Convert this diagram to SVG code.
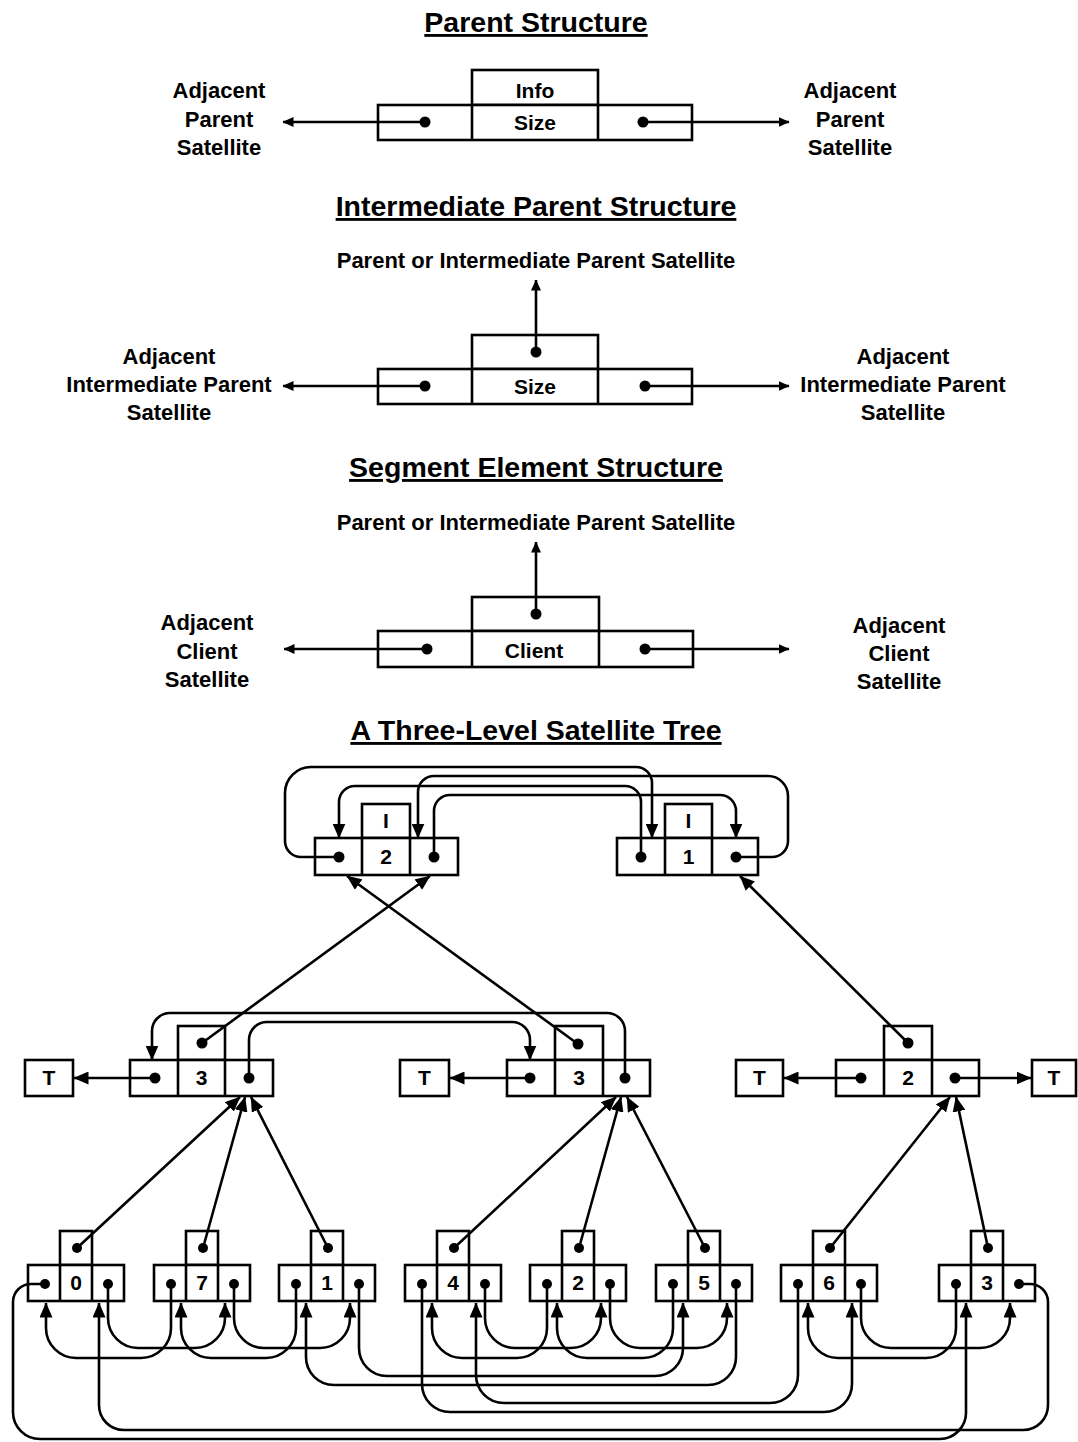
<svg xmlns="http://www.w3.org/2000/svg" width="1078" height="1442" viewBox="0 0 1078 1442">
<defs>
<style>
.t{font-family:"Liberation Sans",Arial,sans-serif;font-weight:bold;fill:#000;text-anchor:middle}
.h{font-size:28.5px;text-decoration:underline}
.l{font-size:22px}
.n{font-size:21px}
.b{fill:#fff;stroke:#000;stroke-width:2.6}
.k{stroke:#000;stroke-width:2.6}
.cs{fill:none;stroke:#000;stroke-width:2.6;marker-end:url(#s)}
.ca{fill:none;stroke:#000;stroke-width:2.6;marker-end:url(#a)}
.d{fill:#000}
</style>
<marker id="a" markerUnits="userSpaceOnUse" markerWidth="15" markerHeight="13" viewBox="0 0 15 13" refX="14.5" refY="6.5" orient="auto"><path d="M0,0L15,6.5L0,13z"/></marker>
<marker id="s" markerUnits="userSpaceOnUse" markerWidth="11" markerHeight="10" viewBox="0 0 11 10" refX="10.5" refY="5" orient="auto"><path d="M0,0L11,5L0,10z"/></marker>
</defs>
<rect width="1078" height="1442" fill="#fff"/>

<g id="titles">
<text class="t h" x="536" y="32">Parent Structure</text>
<text class="t h" x="536" y="216">Intermediate Parent Structure</text>
<text class="t h" x="536" y="477">Segment Element Structure</text>
<text class="t h" x="536" y="740">A Three-Level Satellite Tree</text>
</g>

<g id="parent-node">
<rect class="b" x="472" y="70" width="126" height="35"/>
<rect class="b" x="378" y="105" width="314" height="35"/>
<line class="k" x1="472" y1="105" x2="472" y2="140"/>
<line class="k" x1="598" y1="105" x2="598" y2="140"/>
<text class="t n" x="535" y="97.5">Info</text>
<text class="t n" x="535" y="130">Size</text>
<circle class="d" cx="425" cy="122" r="5.5"/>
<circle class="d" cx="643" cy="122" r="5.5"/>
</g>
<g id="parent-left-label">
<text class="t l" x="219" y="98">Adjacent</text>
<text class="t l" x="219" y="127">Parent</text>
<text class="t l" x="219" y="155">Satellite</text>
</g>
<g id="parent-right-label">
<text class="t l" x="850" y="98">Adjacent</text>
<text class="t l" x="850" y="127">Parent</text>
<text class="t l" x="850" y="155">Satellite</text>
</g>

<g id="intermediate-node">
<rect class="b" x="472" y="335" width="126" height="34"/>
<rect class="b" x="378" y="369" width="314" height="35"/>
<line class="k" x1="472" y1="369" x2="472" y2="404"/>
<line class="k" x1="598" y1="369" x2="598" y2="404"/>
<text class="t n" x="535" y="394">Size</text>
<circle class="d" cx="425" cy="386" r="5.5"/>
<circle class="d" cx="645" cy="386" r="5.5"/>
<circle class="d" cx="536" cy="352" r="5.5"/>
</g>
<g id="intermediate-top-label">
<text class="t l" x="536" y="268">Parent or Intermediate Parent Satellite</text>
</g>
<g id="intermediate-left-label">
<text class="t l" x="169" y="364">Adjacent</text>
<text class="t l" x="169" y="392">Intermediate Parent</text>
<text class="t l" x="169" y="420">Satellite</text>
</g>
<g id="intermediate-right-label">
<text class="t l" x="903" y="364">Adjacent</text>
<text class="t l" x="903" y="392">Intermediate Parent</text>
<text class="t l" x="903" y="420">Satellite</text>
</g>

<g id="segment-node">
<rect class="b" x="472" y="597" width="127" height="34"/>
<rect class="b" x="378" y="631" width="315" height="36"/>
<line class="k" x1="472" y1="631" x2="472" y2="667"/>
<line class="k" x1="599" y1="631" x2="599" y2="667"/>
<text class="t n" x="534" y="658">Client</text>
<circle class="d" cx="427" cy="649" r="5.5"/>
<circle class="d" cx="645" cy="649" r="5.5"/>
<circle class="d" cx="536" cy="614" r="5.5"/>
</g>
<g id="segment-top-label">
<text class="t l" x="536" y="530">Parent or Intermediate Parent Satellite</text>
</g>
<g id="segment-left-label">
<text class="t l" x="207" y="630">Adjacent</text>
<text class="t l" x="207" y="659">Client</text>
<text class="t l" x="207" y="687">Satellite</text>
</g>
<g id="segment-right-label">
<text class="t l" x="899" y="633">Adjacent</text>
<text class="t l" x="899" y="661">Client</text>
<text class="t l" x="899" y="689">Satellite</text>
</g>

<g id="top-2">
<rect class="b" x="362" y="804" width="48" height="34"/>
<rect class="b" x="315" y="838" width="143" height="37"/>
<line class="k" x1="362" y1="838" x2="362" y2="875"/>
<line class="k" x1="410" y1="838" x2="410" y2="875"/>
<text class="t n" x="386" y="828">I</text>
<text class="t n" x="386" y="864">2</text>
<circle class="d" cx="339" cy="857" r="5.5"/>
<circle class="d" cx="434" cy="857" r="5.5"/>
</g>
<g id="top-1">
<rect class="b" x="665" y="804" width="47" height="34"/>
<rect class="b" x="617" y="838" width="141" height="37"/>
<line class="k" x1="665" y1="838" x2="665" y2="875"/>
<line class="k" x1="712" y1="838" x2="712" y2="875"/>
<text class="t n" x="688.5" y="828">I</text>
<text class="t n" x="688.5" y="864">1</text>
<circle class="d" cx="641" cy="857" r="5.5"/>
<circle class="d" cx="736" cy="857" r="5.5"/>
</g>

<g id="mid-3a">
<rect class="b" x="178" y="1026" width="47" height="34"/>
<rect class="b" x="130" y="1060" width="143" height="36"/>
<line class="k" x1="178" y1="1060" x2="178" y2="1096"/>
<line class="k" x1="225" y1="1060" x2="225" y2="1096"/>
<text class="t n" x="201.5" y="1085">3</text>
<circle class="d" cx="155" cy="1078" r="5.5"/>
<circle class="d" cx="249" cy="1078" r="5.5"/>
<circle class="d" cx="202" cy="1043" r="5.5"/>
</g>
<g id="mid-3b">
<rect class="b" x="555" y="1026" width="48" height="34"/>
<rect class="b" x="507" y="1060" width="143" height="36"/>
<line class="k" x1="555" y1="1060" x2="555" y2="1096"/>
<line class="k" x1="603" y1="1060" x2="603" y2="1096"/>
<text class="t n" x="579" y="1085">3</text>
<circle class="d" cx="530" cy="1078" r="5.5"/>
<circle class="d" cx="625" cy="1078" r="5.5"/>
<circle class="d" cx="578" cy="1044" r="5.5"/>
</g>
<g id="mid-2">
<rect class="b" x="884" y="1026" width="48" height="34"/>
<rect class="b" x="836" y="1060" width="143" height="36"/>
<line class="k" x1="884" y1="1060" x2="884" y2="1096"/>
<line class="k" x1="932" y1="1060" x2="932" y2="1096"/>
<text class="t n" x="908" y="1085">2</text>
<circle class="d" cx="861" cy="1078" r="5.5"/>
<circle class="d" cx="955" cy="1078" r="5.5"/>
<circle class="d" cx="908" cy="1043" r="5.5"/>
</g>
<g id="term-1"><rect class="b" x="25" y="1060" width="48" height="36"/><text class="t n" x="49" y="1085">T</text></g>
<g id="term-2"><rect class="b" x="400" y="1060" width="49" height="36"/><text class="t n" x="424.5" y="1085">T</text></g>
<g id="term-3"><rect class="b" x="736" y="1060" width="47" height="36"/><text class="t n" x="759.5" y="1085">T</text></g>
<g id="term-4"><rect class="b" x="1032" y="1060" width="44" height="36"/><text class="t n" x="1054" y="1085">T</text></g>

<g id="leaf-0">
<rect class="b" x="60" y="1231" width="32" height="34"/>
<rect class="b" x="28" y="1265" width="96" height="36"/>
<line class="k" x1="60" y1="1265" x2="60" y2="1301"/>
<line class="k" x1="92" y1="1265" x2="92" y2="1301"/>
<text class="t n" x="76" y="1290">0</text>
<circle class="d" cx="45" cy="1284" r="5"/><circle class="d" cx="108" cy="1284" r="5"/><circle class="d" cx="77" cy="1248" r="5"/>
</g>
<g id="leaf-7">
<rect class="b" x="186" y="1231" width="32" height="34"/>
<rect class="b" x="154" y="1265" width="96" height="36"/>
<line class="k" x1="186" y1="1265" x2="186" y2="1301"/>
<line class="k" x1="218" y1="1265" x2="218" y2="1301"/>
<text class="t n" x="202" y="1290">7</text>
<circle class="d" cx="171" cy="1284" r="5"/><circle class="d" cx="234" cy="1284" r="5"/><circle class="d" cx="203" cy="1248" r="5"/>
</g>
<g id="leaf-1">
<rect class="b" x="311" y="1231" width="32" height="34"/>
<rect class="b" x="279" y="1265" width="96" height="36"/>
<line class="k" x1="311" y1="1265" x2="311" y2="1301"/>
<line class="k" x1="343" y1="1265" x2="343" y2="1301"/>
<text class="t n" x="327" y="1290">1</text>
<circle class="d" cx="296" cy="1284" r="5"/><circle class="d" cx="359" cy="1284" r="5"/><circle class="d" cx="328" cy="1248" r="5"/>
</g>
<g id="leaf-4">
<rect class="b" x="437" y="1231" width="32" height="34"/>
<rect class="b" x="405" y="1265" width="96" height="36"/>
<line class="k" x1="437" y1="1265" x2="437" y2="1301"/>
<line class="k" x1="469" y1="1265" x2="469" y2="1301"/>
<text class="t n" x="453" y="1290">4</text>
<circle class="d" cx="422" cy="1284" r="5"/><circle class="d" cx="485" cy="1284" r="5"/><circle class="d" cx="454" cy="1248" r="5"/>
</g>
<g id="leaf-2">
<rect class="b" x="562" y="1231" width="32" height="34"/>
<rect class="b" x="530" y="1265" width="96" height="36"/>
<line class="k" x1="562" y1="1265" x2="562" y2="1301"/>
<line class="k" x1="594" y1="1265" x2="594" y2="1301"/>
<text class="t n" x="578" y="1290">2</text>
<circle class="d" cx="547" cy="1284" r="5"/><circle class="d" cx="610" cy="1284" r="5"/><circle class="d" cx="579" cy="1248" r="5"/>
</g>
<g id="leaf-5">
<rect class="b" x="688" y="1231" width="32" height="34"/>
<rect class="b" x="656" y="1265" width="96" height="36"/>
<line class="k" x1="688" y1="1265" x2="688" y2="1301"/>
<line class="k" x1="720" y1="1265" x2="720" y2="1301"/>
<text class="t n" x="704" y="1290">5</text>
<circle class="d" cx="673" cy="1284" r="5"/><circle class="d" cx="736" cy="1284" r="5"/><circle class="d" cx="705" cy="1248" r="5"/>
</g>
<g id="leaf-6">
<rect class="b" x="813" y="1231" width="32" height="34"/>
<rect class="b" x="781" y="1265" width="96" height="36"/>
<line class="k" x1="813" y1="1265" x2="813" y2="1301"/>
<line class="k" x1="845" y1="1265" x2="845" y2="1301"/>
<text class="t n" x="829" y="1290">6</text>
<circle class="d" cx="798" cy="1284" r="5"/><circle class="d" cx="861" cy="1284" r="5"/><circle class="d" cx="830" cy="1248" r="5"/>
</g>
<g id="leaf-3">
<rect class="b" x="971" y="1231" width="32" height="34"/>
<rect class="b" x="939" y="1265" width="96" height="36"/>
<line class="k" x1="971" y1="1265" x2="971" y2="1301"/>
<line class="k" x1="1003" y1="1265" x2="1003" y2="1301"/>
<text class="t n" x="987" y="1290">3</text>
<circle class="d" cx="956" cy="1284" r="5"/><circle class="d" cx="1019" cy="1284" r="5"/><circle class="d" cx="988" cy="1248" r="5"/>
</g>

<g id="connectors">
<path class="cs" d="M425,122H283"/>
<path class="cs" d="M643,122H789"/>
<path class="cs" d="M425,386H283"/>
<path class="cs" d="M645,386H789"/>
<path class="cs" d="M536,352V280"/>
<path class="cs" d="M427,649H284"/>
<path class="cs" d="M645,649H789"/>
<path class="cs" d="M536,614V542"/>

<path class="ca" d="M339,857H301C292.2,857 285,849.8 285,841V793C285,778.7 296.7,767 311,767H636C644.8,767 652,774.2 652,783V838"/>
<path class="ca" d="M736,857H772C780.8,857 788,849.8 788,841V796C788,785 779,776 768,776H434C425.2,776 418,783.2 418,792V838"/>
<path class="ca" d="M641,857V802C641,793.2 633.8,786 625,786H355C346.2,786 339,793.2 339,802V838"/>
<path class="ca" d="M434,857V811C434,802.2 441.2,795 450,795H720C728.8,795 736,802.2 736,811V838"/>

<path class="ca" d="M202,1043L430,876"/>
<path class="ca" d="M578,1044L347,876"/>
<path class="ca" d="M908,1043L740,876"/>

<path class="ca" d="M155,1078H74"/>
<path class="ca" d="M530,1078H450"/>
<path class="ca" d="M861,1078H784"/>
<path class="ca" d="M955,1078H1031"/>
<path class="ca" d="M249,1078V1040C249,1030 257,1022 267,1022H512C522,1022 530,1030 530,1040V1060"/>
<path class="ca" d="M625,1078V1031C625,1021 617,1013 607,1013H170C160,1013 152,1021 152,1031V1060"/>

<path class="ca" d="M77,1248L240,1097"/>
<path class="ca" d="M203,1248L245,1097"/>
<path class="ca" d="M328,1248L251,1097"/>
<path class="ca" d="M454,1248L616,1097"/>
<path class="ca" d="M579,1248L621,1097"/>
<path class="ca" d="M705,1248L627,1097"/>
<path class="ca" d="M830,1248L950,1097"/>
<path class="ca" d="M988,1248L956,1097"/>

<path class="ca" d="M108,1284V1318C108,1334.5 121.5,1348 138,1348H195C211.5,1348 225,1334.5 225,1318V1303"/>
<path class="ca" d="M171,1284V1328C171,1344.5 157.5,1358 141,1358H76C59.5,1358 46,1344.5 46,1328V1303"/>
<path class="ca" d="M234,1284V1318C234,1334.5 247.5,1348 264,1348H320C336.5,1348 350,1334.5 350,1318V1303"/>
<path class="ca" d="M296,1284V1328C296,1344.5 282.5,1358 266,1358H211C194.5,1358 181,1344.5 181,1328V1303"/>
<path class="ca" d="M485,1284V1318C485,1334.5 498.5,1348 515,1348H571C587.5,1348 601,1334.5 601,1318V1303"/>
<path class="ca" d="M547,1284V1328C547,1344.5 533.5,1358 517,1358H462C445.5,1358 432,1344.5 432,1328V1303"/>
<path class="ca" d="M610,1284V1318C610,1334.5 623.5,1348 640,1348H697C713.5,1348 727,1334.5 727,1318V1303"/>
<path class="ca" d="M673,1284V1328C673,1344.5 659.5,1358 643,1358H587C570.5,1358 557,1344.5 557,1328V1303"/>
<path class="ca" d="M861,1284V1318C861,1334.5 874.5,1348 891,1348H980C996.5,1348 1010,1334.5 1010,1318V1303"/>
<path class="ca" d="M956,1284V1328C956,1344.5 942.5,1358 926,1358H838C821.5,1358 808,1344.5 808,1328V1303"/>
<path class="ca" d="M359,1284V1348C359,1363.5 371.5,1376 387,1376H655C670.5,1376 683,1363.5 683,1348V1303"/>
<path class="ca" d="M736,1284V1357C736,1372.5 723.5,1385 708,1385H334C318.5,1385 306,1372.5 306,1357V1303"/>
<path class="ca" d="M798,1284V1375C798,1390.5 785.5,1403 770,1403H504C488.5,1403 476,1390.5 476,1375V1303"/>
<path class="ca" d="M422,1284V1384C422,1399.5 434.5,1412 450,1412H824C839.5,1412 852,1399.5 852,1384V1303"/>
<path class="ca" d="M1019,1284H1030C1040,1284 1048,1292 1048,1302V1405C1048,1419 1037,1430 1023,1430H124C110,1430 99,1419 99,1405V1303"/>
<path class="ca" d="M45,1284H31C21,1284 13,1292 13,1302V1412C13,1427 25,1439 40,1439H940C954,1439 966,1427 966,1413V1303"/>
</g>
</svg>
